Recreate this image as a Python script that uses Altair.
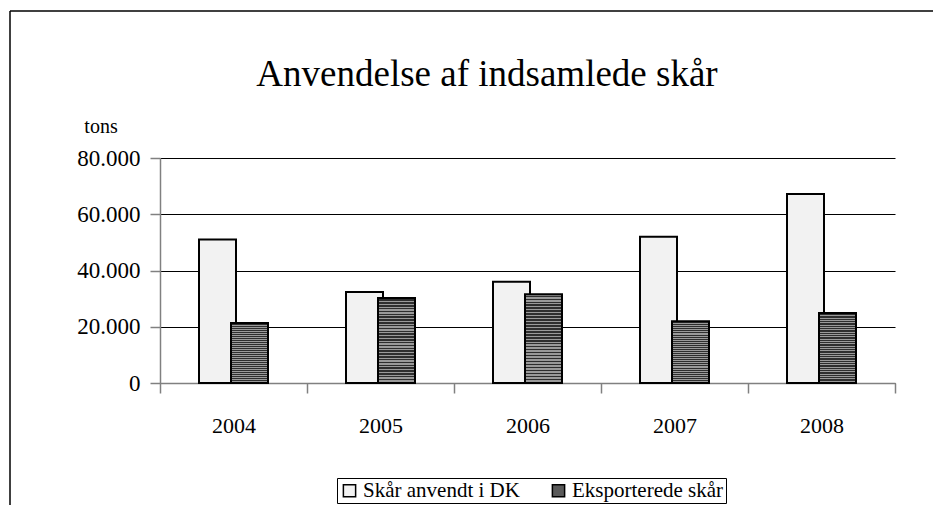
import altair as alt
import pandas as pd

years = ["2004", "2005", "2006", "2007", "2008"]
series_names = ["Skår anvendt i DK", "Eksporterede skår"]
used_dk = [51000, 32400, 36000, 52000, 67200]
exported = [21300, 30200, 31600, 22000, 24900]
y_ticks = [0, 20000, 40000, 60000, 80000]
title_text = "Anvendelse af indsamlede skår"
y_unit = "tons"

FONT = "Liberation Serif"

light_df = pd.DataFrame({"year": years, "value": used_dk, "series": series_names[0]})
dark_df = pd.DataFrame({"year": years, "value": exported, "series": series_names[1]})

# horizontal stripe texture for the exported bars
N = 30
stops = []
for i in range(N):
    stops.append(alt.GradientStop(offset=i / N, color="#9a9a9a"))
    stops.append(alt.GradientStop(offset=(i + 0.5) / N, color="#9a9a9a"))
    stops.append(alt.GradientStop(offset=(i + 0.5) / N, color="#2e2e2e"))
    stops.append(alt.GradientStop(offset=(i + 1) / N, color="#2e2e2e"))
stripe = alt.LinearGradient(gradient="linear", stops=stops, x1=0, x2=0, y1=0, y2=1)

x_enc = alt.X(
    "year:N",
    sort=years,
    scale=alt.Scale(paddingInner=0, paddingOuter=0),
    axis=alt.Axis(
        title=None,
        tickBand="extent",
        labelAngle=0,
        labelFont=FONT,
        labelFontSize=22,
        labelColor="black",
        labelPadding=22,
        tickSize=10,
        tickColor="#808080",
        domainColor="#808080",
        domainWidth=1.5,
        tickWidth=1.5,
    ),
)
y_enc = alt.Y(
    "value:Q",
    scale=alt.Scale(domain=[0, 80000]),
    axis=alt.Axis(
        title=None,
        values=y_ticks,
        labelExpr="replace(format(datum.value, ','), ',', '.')",
        labelFont=FONT,
        labelFontSize=23,
        labelColor="black",
        labelPadding=10,
        tickSize=10,
        tickColor="#808080",
        domainColor="#808080",
        domainWidth=1.5,
        tickWidth=1.5,
        grid=True,
        gridColor="black",
        gridWidth=1,
    ),
)

light = alt.Chart(light_df).mark_bar(
    width=37, xOffset=-16, stroke="black", strokeWidth=2, fillOpacity=1
).encode(
    x=x_enc,
    y=y_enc,
    fill=alt.Fill(
        "series:N",
        scale=alt.Scale(domain=series_names, range=["#f2f2f2", "#5a5a5a"]),
        legend=alt.Legend(
            title=None,
            orient="none",
            legendX=177,
            legendY=320,
            direction="horizontal",
            labelFont=FONT,
            labelFontSize=21,
            labelColor="black",
            labelLimit=300,
            symbolType="square",
            symbolSize=150,
            symbolStrokeColor="black",
            symbolStrokeWidth=1.5,
            symbolOpacity=1,
            strokeColor="black",
            fillColor="white",
            padding=2,
            columnPadding=28,
            labelOffset=3,
        ),
    ),
)

dark = alt.Chart(dark_df).mark_bar(
    width=37, xOffset=16, stroke="black", strokeWidth=2, fill=stripe
).encode(x=x_enc, y=y_enc)

frame_df = pd.DataFrame({"k": [0]})
frame_top = alt.Chart(frame_df).mark_rule(color="black", strokeWidth=1.5).encode(
    x=alt.value(-150), x2=alt.value(773), y=alt.value(-147)
)
frame_left = alt.Chart(frame_df).mark_rule(color="black", strokeWidth=1.5).encode(
    x=alt.value(-150), y=alt.value(-147), y2=alt.value(347)
)

title = alt.Chart(frame_df).mark_text(
    text=title_text, font=FONT, fontSize=37, color="black", align="center", baseline="alphabetic"
).encode(x=alt.value(327), y=alt.value(-72))

unit = alt.Chart(frame_df).mark_text(
    text=y_unit, font=FONT, fontSize=20, color="black", align="center", baseline="alphabetic"
).encode(x=alt.value(-59), y=alt.value(-25))

chart = alt.layer(frame_top, frame_left, light, dark, title, unit).properties(
    width=735,
    height=225,
    padding={"left": 152, "top": 150, "right": 38, "bottom": 122},
    autosize=alt.AutoSizeParams(type="none"),
    background="white",
).configure_view(strokeWidth=0)

chart.save("out.html", embed_options={"renderer": "svg", "actions": False})
